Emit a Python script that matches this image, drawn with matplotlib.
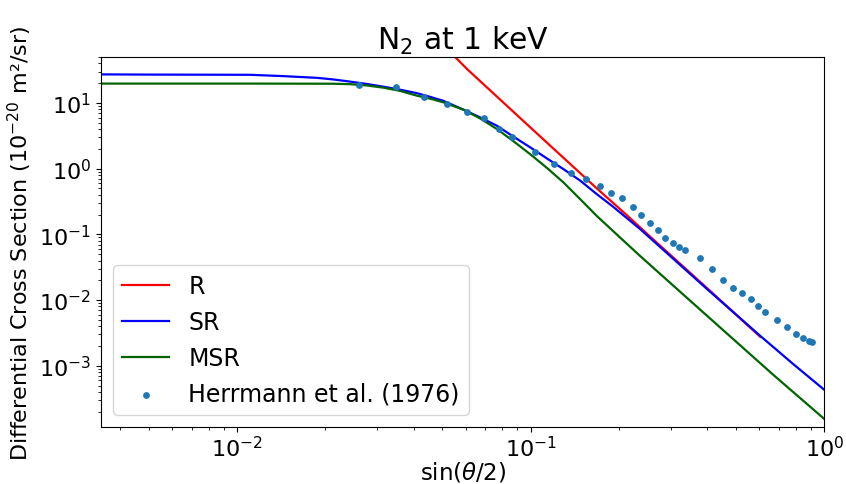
import numpy as np
import matplotlib
matplotlib.use("Agg")
import matplotlib.pyplot as plt

# curves (x = sin(theta/2))
R_X = [0.045, 0.0553, 0.0606, 0.0996, 0.168, 0.2127, 0.2554, 0.398, 0.605]
R_Y = [110.0, 50.0, 33.0, 4.26, 0.50, 0.195, 0.092, 0.0153, 0.00276]

SR_X = [0.00344, 0.00505, 0.00748, 0.01107, 0.01434, 0.01869, 0.02124, 0.02427,
        0.02751, 0.03144, 0.0359, 0.04095, 0.0455, 0.0503, 0.0590, 0.0673,
        0.0767, 0.0872, 0.0996, 0.1138, 0.1293, 0.1475, 0.168, 0.1895,
        0.236, 0.398, 0.605, 0.78, 1.0]
SR_Y = [27.2, 27.0, 26.9, 26.8, 25.6, 24.1, 22.8, 21.1,
        19.5, 17.7, 15.9, 14.1, 12.35, 10.8, 7.90, 6.01,
        4.50, 3.08, 2.11, 1.42, 0.983, 0.656, 0.408, 0.270,
        0.120, 0.0148, 0.00285, 1.08e-3, 4.3e-4]

MSR_X = [0.00344, 0.01107, 0.02124, 0.02427, 0.02751, 0.03144, 0.0359, 0.04095,
         0.0455, 0.0503, 0.0590, 0.0673, 0.0767, 0.0872, 0.0996, 0.1138,
         0.1293, 0.1475, 0.168, 0.1987, 0.236, 0.398, 0.672, 1.0]
MSR_Y = [19.7, 19.7, 19.6, 19.3, 18.5, 17.1, 15.25, 12.9,
         11.6, 10.25, 7.90, 5.80, 4.01, 2.63, 1.66, 1.018,
         0.616, 0.342, 0.190, 0.0949, 0.0467, 0.0058, 7.2e-4, 1.55e-4]

# Herrmann et al. (1976) measurements
HERR_X = [0.0260, 0.0348, 0.0433, 0.0520, 0.0606, 0.0691, 0.0777, 0.0863,
          0.1036, 0.1202, 0.1371, 0.1537, 0.1715, 0.188, 0.2047, 0.2222,
          0.2379, 0.2541, 0.2704, 0.2872, 0.3041, 0.3198, 0.3352, 0.376,
          0.4144, 0.4517, 0.4886, 0.5255, 0.5626, 0.5957, 0.6295, 0.6915,
          0.748, 0.801, 0.848, 0.887, 0.905]
HERR_Y = [18.6, 17.4, 12.35, 9.76, 7.36, 5.84, 4.01, 2.99,
          1.805, 1.171, 0.866, 0.691, 0.546, 0.433, 0.357, 0.265,
          0.197, 0.151, 0.115, 0.0890, 0.0747, 0.0640, 0.0576, 0.0435,
          0.0300, 0.0203, 0.01536, 0.01288, 0.01054, 0.00824, 0.00661, 0.00499,
          0.00384, 0.00308, 0.00268, 0.00238, 0.00227]

fig = plt.figure(figsize=(8.46, 4.85), dpi=100)
ax = fig.add_axes([0.1194, 0.1175, 0.855, 0.7629])

ax.plot(R_X, R_Y, color="red", linewidth=1.6, label="R")
ax.plot(SR_X, SR_Y, color="blue", linewidth=1.6, label="SR")
ax.plot(MSR_X, MSR_Y, color="darkgreen", linewidth=1.6, label="MSR")
ax.scatter(HERR_X, HERR_Y, s=15, color="C0", label="Herrmann et al. (1976)",
           zorder=3)

ax.set_xscale("log")
ax.set_yscale("log")
ax.set_xlim(0.00344, 1.0)
ax.set_ylim(1.17e-4, 50)

ax.set_title(r"N$_2$ at 1 keV", fontsize=21.5)
ax.set_xlabel(r"sin($\theta$/2)", fontsize=16.5, labelpad=0)
ax.set_ylabel(r"Differential Cross Section ($10^{-20}$ m²/sr)", fontsize=16)
ax.tick_params(axis="both", which="major", labelsize=16)
ax.tick_params(axis="x", which="major", pad=2)

ax.legend(loc="lower left", fontsize=17)

fig.savefig("out.png", dpi=100)
